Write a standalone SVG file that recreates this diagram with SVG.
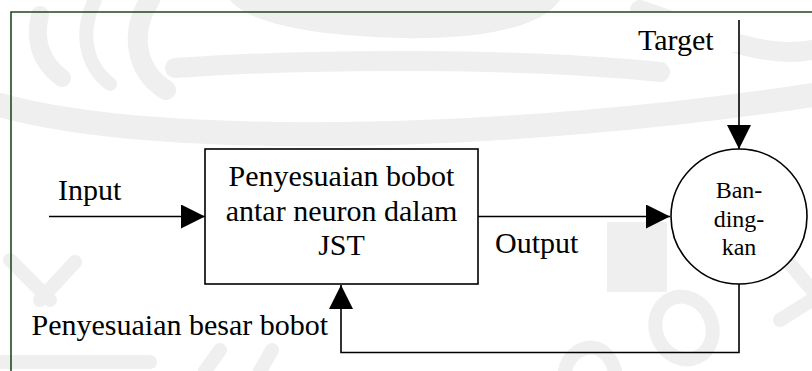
<svg xmlns="http://www.w3.org/2000/svg" width="812" height="371" viewBox="0 0 812 371">
  <style>
    .wm { fill: none; stroke: #efefef; stroke-linecap: round; }
    .wmf { fill: #efefef; }
    .ln { fill: none; stroke: #000; stroke-width: 1.6; }
    .shape { fill: #fff; stroke: #000; stroke-width: 1.6; }
    .t { font-family: "Liberation Serif", "Times New Roman", serif; font-size: 30px; fill: #000; }
    .tc { text-anchor: middle; }
    .ts { font-family: "Liberation Serif", "Times New Roman", serif; font-size: 24px; fill: #000; text-anchor: middle; }
  </style>
  <defs>
    <marker id="arrow" viewBox="0 0 24 24" refX="24" refY="12" markerWidth="24" markerHeight="24" markerUnits="userSpaceOnUse" orient="auto">
      <path d="M0,0 L24,12 L0,24 z" fill="#000"/>
    </marker>
  </defs>

  <rect width="812" height="371" fill="#fff"/>

  <!-- faint background emblem -->
  <g id="watermark">
    <path class="wm" stroke-width="18" d="M40 15 C 34 40, 40 62, 62 78"/>
    <path class="wm" stroke-width="14" d="M95 0 C 80 30, 84 64, 110 84"/>
    <path class="wm" stroke-width="20" d="M150 0 C 130 30, 134 70, 166 90"/>
    <path class="wm" stroke-width="20" d="M175 68 C 320 58, 520 58, 660 72"/>
    <path class="wm" stroke-width="24" d="M0 105 C 160 150, 520 140, 812 95"/>
    <path class="wmf" d="M230 0 H560 C 540 30, 470 40, 400 38 C 320 36, 250 25, 230 0 z"/>
    <path class="wm" stroke-width="20" d="M640 10 C 700 30, 760 60, 812 50"/>
    <path class="wm" stroke-width="14" d="M10 260 L 50 300 M 40 300 L 75 262"/>
    <path class="wm" stroke-width="14" d="M0 362 H 150 M 205 371 L 220 350 M 260 371 L 272 350"/>
    <path class="wm" stroke-width="14" d="M770 240 L 812 290 M 780 320 L 812 300"/>
    <ellipse class="wm" stroke-width="14" cx="684" cy="328" rx="28" ry="32" transform="rotate(-25 684 328)"/>
    <path class="wm" stroke-width="14" d="M565 371 C 570 345, 605 335, 615 371"/>
    <rect class="wmf" x="607" y="222" width="60" height="70"/>
  </g>

  <!-- white panels behind labels -->
  <rect x="0" y="163" width="160" height="77" fill="#fff"/>
  <rect x="590" y="12" width="150" height="40" fill="#fff"/>

  <!-- frame -->
  <path d="M11 371 V12 H812" fill="none" stroke="#1e4a1e" stroke-width="1.6"/>

  <g id="connectors">
    <path class="ln" d="M49 216.5 H205" marker-end="url(#arrow)"/>
    <path class="ln" d="M478 216.5 H670" marker-end="url(#arrow)"/>
    <path class="ln" d="M739 20 V149" marker-end="url(#arrow)"/>
    <path class="ln" d="M739 284 V352.5 H341 V285" marker-end="url(#arrow)"/>
  </g>

  <g id="process">
    <rect class="shape" x="205" y="149" width="273" height="135"/>
    <text class="t tc" x="341.5" y="186">Penyesuaian bobot</text>
    <text class="t tc" x="341.5" y="221">antar neuron dalam</text>
    <text class="t tc" x="341.5" y="255">JST</text>
  </g>

  <g id="compare">
    <ellipse class="shape" cx="739" cy="216.5" rx="68" ry="67.5"/>
    <text class="ts" x="739" y="198">Ban-</text>
    <text class="ts" x="739" y="226.5">ding-</text>
    <text class="ts" x="739" y="255">kan</text>
  </g>

  <g id="labels">
    <text class="t" x="638" y="50">Target</text>
    <text class="t" x="58" y="200">Input</text>
    <text class="t" x="495" y="253">Output</text>
    <text class="t" x="31.5" y="335">Penyesuaian besar bobot</text>
  </g>
</svg>
